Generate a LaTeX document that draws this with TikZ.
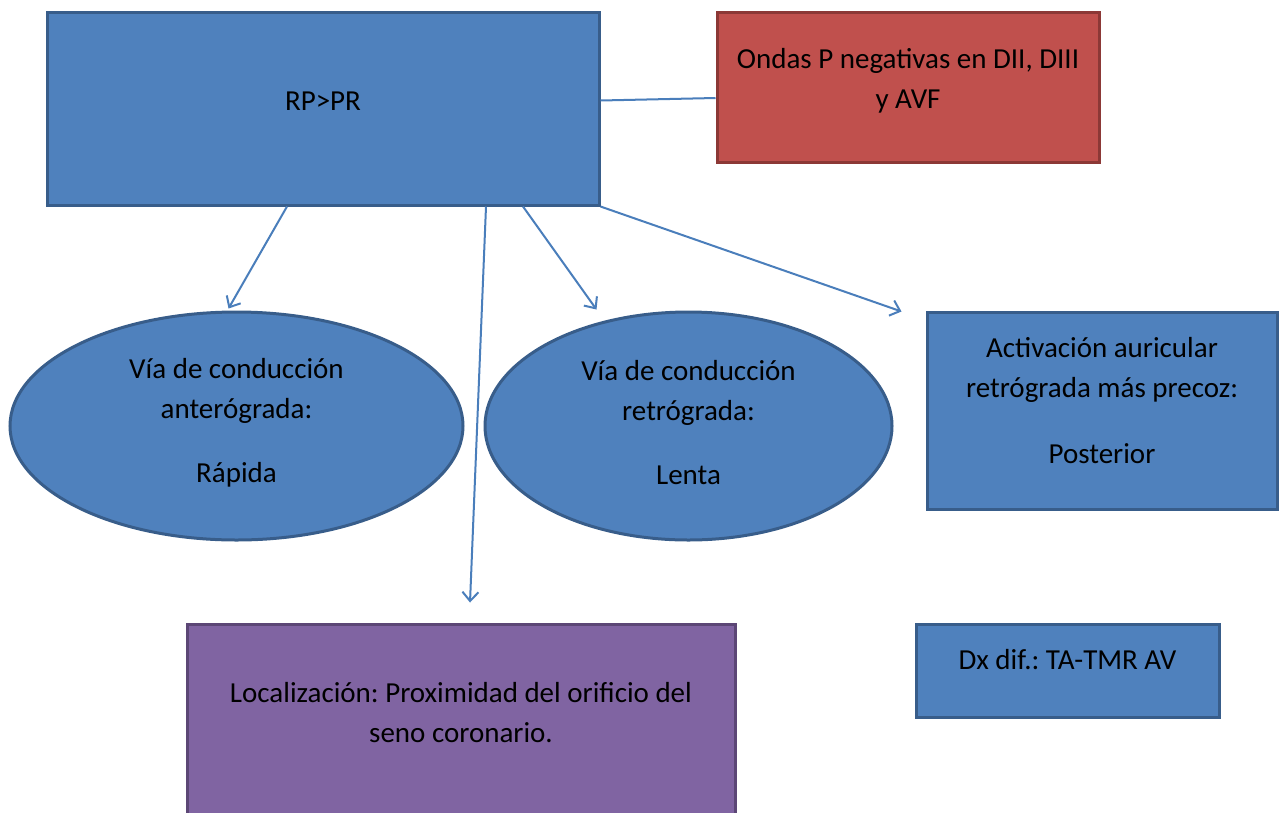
\documentclass[tikz,border=0pt]{standalone}
\usepackage{fontspec}
\setmainfont{Carlito}
\usepackage{xcolor}
\usetikzlibrary{shapes,arrows.meta,calc}
\frenchspacing
\definecolor{boxblue}{HTML}{4F81BD}
\definecolor{edgeblue}{HTML}{385D8A}
\definecolor{boxred}{HTML}{C0504D}
\definecolor{edgered}{HTML}{8C3836}
\definecolor{boxpurple}{HTML}{8064A2}
\definecolor{edgepurple}{HTML}{5C4776}
\definecolor{lineblue}{HTML}{4A7EBB}
\newcommand{\lift}[1]{\rule[-#1pt]{0pt}{0pt}}
\tikzstyle{block} = [rectangle, draw=edgeblue, fill=boxblue, line width=3pt, align=center, inner sep=0pt]
\tikzstyle{oval} = [ellipse, draw=edgeblue, fill=boxblue, line width=3pt, align=center, inner sep=0pt]
\tikzstyle{line} = [draw=lineblue, line width=2pt, -{Straight Barb[length=9pt,width=16pt]}]
\begin{document}
\begin{tikzpicture}[x=1pt, y=-1pt, font=\fontsize{29}{40}\selectfont\frenchspacing]
\useasboundingbox (0,0) rectangle (1279,812);
\node [block, minimum width=552pt, minimum height=193pt] (rp) at (323,108.5) {RP>PR\lift{15}};
\node [block, draw=edgered, fill=boxred, minimum width=382pt, minimum height=150pt] (red) at (908,87) {Ondas P negativas en DII, DIII\\y AVF\lift{18}};
\node [oval, minimum width=453pt, minimum height=228pt] (ant) at (236.5,426) {V\'ia de conducci\'on\\anter\'ograda:\\[24pt]R\'apida\lift{12}};
\node [oval, minimum width=407pt, minimum height=228pt] (ret) at (688.5,426) {V\'ia de conducci\'on\\retr\'ograda:\\[24pt]Lenta\lift{7}};
\node [block, minimum width=350pt, minimum height=197pt] (act) at (1102,410.5) {Activaci\'on auricular\\retr\'ograda m\'as precoz:\\[26pt]Posterior\lift{20}};
\node [block, minimum width=303pt, minimum height=93pt] (dx) at (1067.5,670.5) {Dx dif.: TA-TMR AV\lift{22}};
\node [block, draw=edgepurple, fill=boxpurple, minimum width=548pt, minimum height=192pt] (loc) at (461,720) {Localizaci\'on: Proximidad del orificio del\\seno coronario.\lift{16}};

\draw [lineblue, line width=2pt] ($(rp.east)+(0,-8)$) -- ($(red.west)+(0,11)$);
\path [line] ($(rp.south)+(-36,0)$) -- ($(ant.north)+(-8,-2)$);
\path [line] ($(rp.south)+(163,0)$) -- ($(loc.north)+(9,-20)$);
\path [line] ($(rp.south)+(200,0)$) -- ($(ret.north)+(-92,-1)$);
\path [line] (rp.south east) -- ($(act.north west)+(-24,1)$);
\end{tikzpicture}
\end{document}
